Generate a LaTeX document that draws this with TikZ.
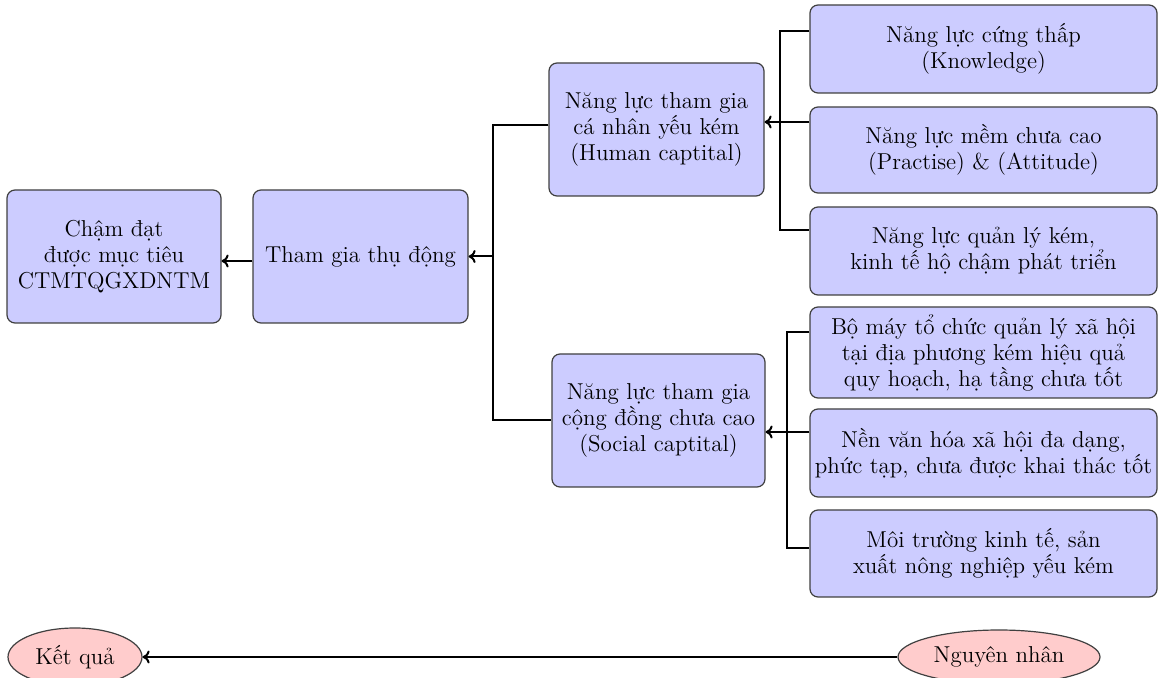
\documentclass[tikz,border=0pt]{standalone}
\usetikzlibrary{calc,shapes.geometric,arrows.meta}
\begin{document}
\begin{tikzpicture}[x=0.5pt,y=-0.5pt,
  every node/.style={font=\fontsize{11.5}{13}\selectfont},
  box/.style={draw=black!75,semithick,fill=blue!20,rounded corners=4pt,align=center,inner sep=0pt},
  oval/.style={ellipse,draw=black!75,semithick,fill=red!20,inner sep=0pt},
  conn/.style={draw=black,line width=1pt},
  arr/.style={conn,-{To[length=3.5pt,width=6.5pt]}}]
\useasboundingbox (0,0) rectangle (1169,678);
% main boxes
\node[box,minimum width=107pt,minimum height=66.5pt] (A) at (114,256.5) {Chậm đạt\\được mục tiêu\\CTMTQGXDNTM};
\node[box,minimum width=107.5pt,minimum height=66.5pt] (B) at (360.5,256.5) {Tham gia thụ động};
\node[box,minimum width=107.5pt,minimum height=66.5pt] (C) at (656.5,129.5) {Năng lực tham gia\\cá nhân yếu kém\\(Human captital)};
\node[box,minimum width=106.5pt,minimum height=66.5pt] (D) at (658.5,420.5) {Năng lực tham gia\\cộng đồng chưa cao\\(Social captital)};
% right boxes
\node[box,minimum width=173.5pt,minimum height=44pt] (R1) at (983.5,49) {Năng lực cứng thấp\\(Knowledge)};
\node[box,minimum width=173.5pt,minimum height=43pt] (R2) at (983.5,150) {Năng lực mềm chưa cao\\(Practise) \& (Attitude)};
\node[box,minimum width=173.5pt,minimum height=44pt] (R3) at (983.5,251) {Năng lực quản lý kém,\\kinh tế hộ chậm phát triển};
\node[box,minimum width=173.5pt,minimum height=45.5pt] (R4) at (983.5,352.5) {Bộ máy tổ chức quản lý xã hội\\tại địa phương kém hiệu quả\\quy hoạch, hạ tầng chưa tốt};
\node[box,minimum width=173.5pt,minimum height=44pt] (R5) at (983.5,453) {Nền văn hóa xã hội đa dạng,\\phức tạp, chưa được khai thác tốt};
\node[box,minimum width=173.5pt,minimum height=43.5pt] (R6) at (983.5,553.5) {Môi trường kinh tế, sản\\xuất nông nghiệp yếu kém};
% legend
\node[oval,minimum width=67pt,minimum height=29pt] (K) at (75,657) {Kết quả};
\node[oval,minimum width=101pt,minimum height=27pt] (N) at (999,657) {Nguyên nhân};
% bus coordinates
\coordinate (b1) at (493,0);
\coordinate (b2) at (780,0);
\coordinate (b3) at (787,0);
% connectors
\draw[arr] ($(B.west)+(0,4.5)$) -- ($(A.east)+(0,4.5)$);
\draw[conn] ($(C.west)+(0,-4.5)$) -| (b1 |- D.west) -- (D.west);
\draw[arr] (b1 |- B.east) -- (B.east);
\draw[conn] ($(R1.west)+(0,-17.5)$) -| ($(b2 |- R3.west)+(0,-21)$) -- ($(R3.west)+(0,-21)$);
\draw[arr] ($(R2.west)+(0,-28)$) -- ($(C.east)+(0,-7.5)$);
\draw[conn] ($(R4.west)+(0,-20.5)$) -| ($(b3 |- R6.west)+(0,-5.5)$) -- ($(R6.west)+(0,-5.5)$);
\draw[arr] ($(R5.west)+(0,-21)$) -- ($(D.east)+(0,11.5)$);
\draw[arr] (N.west) -- (K.east);
\end{tikzpicture}
\end{document}
